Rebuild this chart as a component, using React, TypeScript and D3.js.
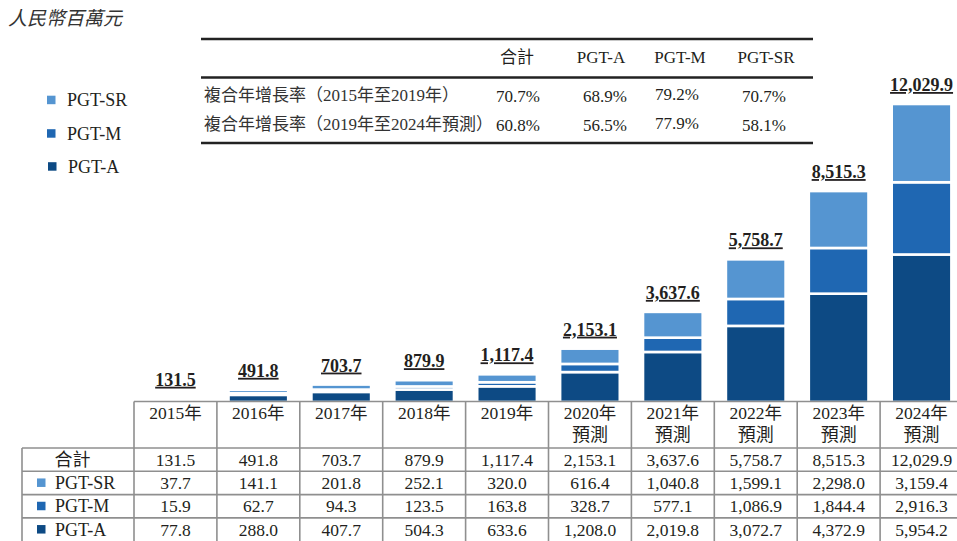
import * as d3 from 'd3';

// values in RMB millions
const years = ['2015年', '2016年', '2017年', '2018年', '2019年', '2020年', '2021年', '2022年', '2023年', '2024年'];
const forecast = [false, false, false, false, false, true, true, true, true, true];
const totals = [131.5, 491.8, 703.7, 879.9, 1117.4, 2153.1, 3637.6, 5758.7, 8515.3, 12029.9];
const pgtSR = [37.7, 141.1, 201.8, 252.1, 320.0, 616.4, 1040.8, 1599.1, 2298.0, 3159.4];
const pgtM = [15.9, 62.7, 94.3, 123.5, 163.8, 328.7, 577.1, 1086.9, 1844.4, 2916.3];
const pgtA = [77.8, 288.0, 407.7, 504.3, 633.6, 1208.0, 2019.8, 3072.7, 4372.9, 5954.2];

const cagrHeaders = ['合計', 'PGT-A', 'PGT-M', 'PGT-SR'];
const cagrLabels = ['複合年增長率（2015年至2019年）', '複合年增長率（2019年至2024年預測）'];
const cagrValues = [
  ['70.7%', '68.9%', '79.2%', '70.7%'],
  ['60.8%', '56.5%', '77.9%', '58.1%'],
];

const colors = { A: '#0d4a84', M: '#1f67b2', SR: '#5595d1' };
const FONT = '"Liberation Serif", "Times New Roman", "Noto Sans CJK TC", serif';
const INK = '#231f20';
const GRID = '#8f8f8f';

const fmt = d3.format(',.1f');

export default function App() {
  const W = 957;
  const H = 541;

  const rows = years.map((y, i) => ({ year: y, A: pgtA[i], M: pgtM[i], SR: pgtSR[i], total: totals[i] }));
  const keys = ['A', 'M', 'SR'] as const;
  const stacked = d3.stack<any>().keys(keys as any)(rows);

  const x = d3.scaleBand<string>().domain(years).range([134, 963]).paddingInner(0.28).paddingOuter(0.14);
  const y = d3.scaleLinear().domain([0, d3.max(totals) as number]).range([402, 104]);
  const step = x.step();
  const colLeft = (d: string) => (x(d) as number) - step * 0.14;
  const colCenter = (d: string) => (x(d) as number) + x.bandwidth() / 2;

  // data table geometry
  const headTop = 401.5;
  const headBottom = 448;
  const rowH = 23.3;
  const labelLeft = 22;
  const tableRight = 963;
  const dataRows = [
    { label: '合計', key: 'total', color: null as string | null, vals: totals },
    { label: 'PGT-SR', key: 'SR', color: colors.SR, vals: pgtSR },
    { label: 'PGT-M', key: 'M', color: colors.M, vals: pgtM },
    { label: 'PGT-A', key: 'A', color: colors.A, vals: pgtA },
  ];

  const legend = [
    { label: 'PGT-SR', color: colors.SR, y: 100 },
    { label: 'PGT-M', color: colors.M, y: 133.5 },
    { label: 'PGT-A', color: colors.A, y: 166.5 },
  ];

  const cagrHeadX = [517, 601, 680, 766];
  const cagrValX = [518, 605, 677, 764];

  return (
    <div style={{ position: 'absolute', left: 0, top: 0 }}>
      <svg width={W} height={H} style={{ display: 'block', fontFamily: FONT }}>
        <rect width={W} height={H} fill="#fff" />

        <text x={8} y={25} fontSize={19} fontStyle="italic" fill="#333">人民幣百萬元</text>

        {/* legend */}
        {legend.map((l, i) => (
          <g key={l.label}>
            <rect x={i === 2 ? 48 : 47} y={l.y - 4.3} width={8.5} height={8.5} fill={l.color} />
            <text x={i === 2 ? 68 : 67} y={l.y + 6} fontSize={18} fill={INK}>{l.label}</text>
          </g>
        ))}

        {/* CAGR table */}
        <g fill={INK}>
          {[39, 77.5, 143].map((ly) => (
            <line key={ly} x1={201} x2={813} y1={ly} y2={ly} stroke="#222" strokeWidth={2.6} />
          ))}
          {cagrHeaders.map((h, i) => (
            <text key={h} x={cagrHeadX[i]} y={63} fontSize={17} textAnchor="middle">{h}</text>
          ))}
          {cagrLabels.map((lab, r) => (
            <g key={lab}>
              <text x={204} y={101 + r * 29} fontSize={17} fill="#333">{lab}</text>
              {cagrValues[r].map((v, i) => (
                <text key={i} x={cagrValX[i]} y={101 + r * 29 + (i === 2 ? -1 : 1)} fontSize={17} textAnchor="middle">{v}</text>
              ))}
            </g>
          ))}
        </g>

        {/* stacked bars */}
        {stacked.map((s) => (
          <g key={s.key} fill={(colors as any)[s.key]}>
            {s.map((d, i) => (
              <rect
                key={i}
                x={x(years[i])}
                y={y(d[1])}
                width={x.bandwidth()}
                height={Math.max(0, y(d[0]) - y(d[1]))}
                stroke="#fff"
                strokeWidth={2.6}
              />
            ))}
          </g>
        ))}

        {/* total labels */}
        {rows.map((r) => (
          <text
            key={r.year}
            x={colCenter(r.year)}
            y={y(r.total) - 13}
            fontSize={18}
            fontWeight="bold"
            textAnchor="middle"
            fill={INK}
            style={{ textDecoration: 'underline' }}
          >
            {fmt(r.total)}
          </text>
        ))}

        {/* data table */}
        <g stroke={GRID} strokeWidth={1.6} fill="none">
          <line x1={134} x2={tableRight} y1={headTop} y2={headTop} />
          {dataRows.map((_, i) => (
            <line key={i} x1={labelLeft} x2={tableRight} y1={headBottom + i * rowH} y2={headBottom + i * rowH} />
          ))}
          <line x1={labelLeft} x2={labelLeft} y1={headBottom} y2={H + 2} />
          {years.map((yr) => (
            <line key={yr} x1={colLeft(yr)} x2={colLeft(yr)} y1={headTop} y2={H + 2} />
          ))}
        </g>

        <g fill={INK} fontSize={17.5} textAnchor="middle">
          {years.map((yr, i) => (
            <g key={yr}>
              <text x={colCenter(yr)} y={419}>{yr}</text>
              {forecast[i] && <text x={colCenter(yr)} y={441} fontSize={18}>預測</text>}
            </g>
          ))}
          {dataRows.map((row, r) => {
            const base = headBottom + r * rowH + rowH / 2 + 6;
            return (
              <g key={row.key}>
                {row.color ? (
                  <>
                    <rect x={37} y={base - 10.5} width={8.5} height={8.5} fill={row.color} />
                    <text x={55} y={base} textAnchor="start" fontSize={18}>{row.label}</text>
                  </>
                ) : (
                  <text x={72.5} y={base} fontSize={18}>{row.label}</text>
                )}
                {row.vals.map((v, i) => (
                  <text key={i} x={colCenter(years[i])} y={base}>{fmt(v)}</text>
                ))}
              </g>
            );
          })}
        </g>
      </svg>
    </div>
  );
}
